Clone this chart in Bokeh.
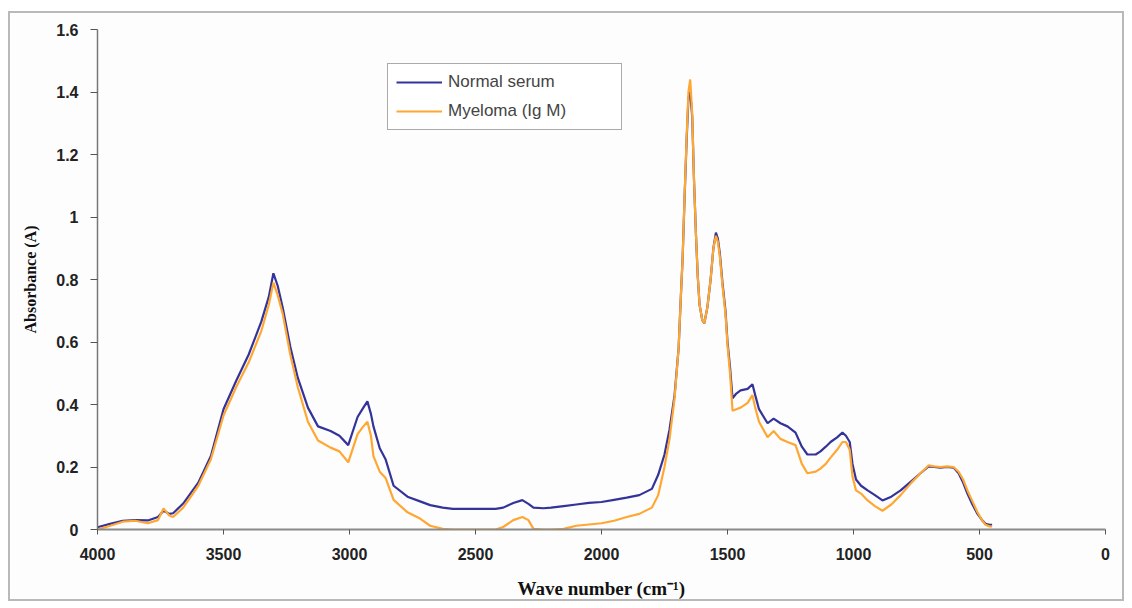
from bokeh.plotting import figure
from bokeh.models import Range1d, FixedTicker, Legend, LegendItem
from bokeh.embed import file_html
from bokeh.resources import INLINE

# ---- data ----
wavenumber = [4000, 3950, 3900, 3850, 3800, 3760, 3738, 3715, 3700, 3660, 3600, 3550, 3500, 3450,
              3400, 3350, 3320, 3302, 3285, 3265, 3235, 3205, 3165, 3125, 3075, 3040, 3005, 2968,
              2945, 2929, 2915, 2905, 2880, 2857, 2825, 2770, 2720, 2680, 2630, 2590, 2500, 2420,
              2390, 2350, 2314, 2290, 2270, 2230, 2200, 2150, 2100, 2050, 2000, 1950, 1900, 1850,
              1800, 1775, 1750, 1730, 1710, 1694, 1686, 1678, 1670, 1662, 1655, 1648, 1640, 1633,
              1625, 1618, 1611, 1600, 1592, 1580, 1567, 1556, 1546, 1538, 1530, 1520, 1508, 1500,
              1490, 1480, 1465, 1448, 1420, 1401, 1390, 1375, 1341, 1317, 1290, 1262, 1230, 1205,
              1183, 1150, 1131, 1110, 1091, 1065, 1044, 1030, 1015, 1004, 990, 970, 944, 915, 885,
              850, 813, 770, 734, 702, 680, 655, 630, 603, 583, 565, 548, 528, 508, 490, 476, 460, 450]

normal_serum = [0.007, 0.018, 0.028, 0.030, 0.029, 0.040, 0.060, 0.050, 0.052, 0.083, 0.150, 0.235,
                0.385, 0.475, 0.560, 0.665, 0.745, 0.820, 0.780, 0.710, 0.585, 0.485, 0.390, 0.330,
                0.315, 0.300, 0.270, 0.360, 0.390, 0.410, 0.370, 0.330, 0.260, 0.225, 0.140, 0.105,
                0.090, 0.078, 0.070, 0.066, 0.066, 0.066, 0.070, 0.085, 0.094, 0.082, 0.070, 0.068,
                0.070, 0.075, 0.080, 0.085, 0.088, 0.095, 0.102, 0.110, 0.130, 0.175, 0.240, 0.320,
                0.430, 0.580, 0.730, 0.870, 1.070, 1.250, 1.380, 1.400, 1.320, 1.120, 0.940, 0.810,
                0.720, 0.670, 0.660, 0.710, 0.800, 0.900, 0.950, 0.930, 0.880, 0.790, 0.700, 0.600,
                0.520, 0.420, 0.435, 0.445, 0.450, 0.465, 0.430, 0.385, 0.340, 0.355, 0.340, 0.330,
                0.310, 0.265, 0.240, 0.240, 0.250, 0.265, 0.280, 0.295, 0.310, 0.300, 0.280, 0.210,
                0.160, 0.140, 0.125, 0.110, 0.093, 0.105, 0.125, 0.155, 0.180, 0.202, 0.200, 0.198,
                0.200, 0.198, 0.180, 0.150, 0.115, 0.080, 0.050, 0.030, 0.018, 0.015, 0.015]

myeloma_igm = [0.000, 0.012, 0.025, 0.028, 0.020, 0.030, 0.067, 0.045, 0.040, 0.070, 0.140, 0.225,
               0.365, 0.455, 0.535, 0.635, 0.720, 0.790, 0.750, 0.690, 0.560, 0.455, 0.345, 0.285,
               0.262, 0.250, 0.215, 0.305, 0.330, 0.345, 0.300, 0.235, 0.185, 0.165, 0.095, 0.055,
               0.035, 0.012, 0.002, 0.000, 0.000, 0.000, 0.008, 0.030, 0.040, 0.030, 0.002, 0.000,
               0.000, 0.002, 0.012, 0.016, 0.020, 0.028, 0.040, 0.050, 0.070, 0.110, 0.200, 0.290,
               0.420, 0.580, 0.730, 0.870, 1.075, 1.260, 1.400, 1.440, 1.330, 1.120, 0.940, 0.810,
               0.720, 0.670, 0.660, 0.710, 0.800, 0.900, 0.940, 0.920, 0.870, 0.780, 0.690, 0.590,
               0.500, 0.380, 0.385, 0.390, 0.405, 0.430, 0.390, 0.345, 0.295, 0.315, 0.290, 0.280,
               0.270, 0.210, 0.180, 0.185, 0.195, 0.210, 0.230, 0.255, 0.280, 0.280, 0.255, 0.170,
               0.125, 0.115, 0.093, 0.075, 0.060, 0.080, 0.110, 0.150, 0.180, 0.205, 0.202, 0.200,
               0.202, 0.200, 0.185, 0.160, 0.125, 0.090, 0.055, 0.030, 0.015, 0.010, 0.010]

series_names = ["Normal serum", "Myeloma (Ig M)"]
x_ticks = [4000, 3500, 3000, 2500, 2000, 1500, 1000, 500, 0]
x_tick_labels = ["4000", "3500", "3000", "2500", "2000", "1500", "1000", "500", "0"]
y_ticks = [0, 0.2, 0.4, 0.6, 0.8, 1.0, 1.2, 1.4, 1.6]
y_tick_labels = ["0", "0.2", "0.4", "0.6", "0.8", "1", "1.2", "1.4", "1.6"]
y_title = "Absorbance (A)"
x_title = "Wave number (cm\u207b\u00b9)"

# ---- figure ----
p = figure(width=1116, height=590, output_backend="svg", toolbar_location=None,
           x_range=Range1d(4000, 0), y_range=Range1d(0, 1.6),
           min_border_left=87, min_border_right=21, min_border_top=16, min_border_bottom=74)
p.styles = {"border": "2px solid #b9b9b9", "margin-left": "8px", "margin-top": "11px"}
p.background_fill_color = "#fdfdfd"
p.border_fill_color = "#fdfdfd"
p.outline_line_color = None
p.xgrid.visible = False
p.ygrid.visible = False

r_normal = p.line(wavenumber, normal_serum, line_color="#33339a", line_width=2.2)
r_myeloma = p.line(wavenumber, myeloma_igm, line_color="#ffa733", line_width=2.2)

# axes
xa = p.xaxis[0]
xa.ticker = FixedTicker(ticks=x_ticks)
xa.major_label_overrides = {t: l for t, l in zip(x_ticks, x_tick_labels)}
xa.axis_line_color = "#8a8a8a"
xa.axis_line_width = 2
xa.major_tick_in = 0
xa.major_tick_out = 5
xa.major_tick_line_color = "#555555"
xa.minor_tick_line_color = None
xa.major_label_text_font = "Liberation Sans"
xa.major_label_text_font_style = "bold"
xa.major_label_text_font_size = "16px"
xa.major_label_text_color = "#222222"
xa.major_label_standoff = 13
xa.axis_label = x_title
xa.axis_label_text_font = "Liberation Serif"
xa.axis_label_text_font_style = "bold"
xa.axis_label_text_font_size = "19px"
xa.axis_label_text_color = "#111111"
xa.axis_label_standoff = 15

ya = p.yaxis[0]
ya.ticker = FixedTicker(ticks=y_ticks)
ya.major_label_overrides = {t: l for t, l in zip(y_ticks, y_tick_labels)}
ya.axis_line_color = "#777777"
ya.axis_line_width = 1.5
ya.major_tick_in = 0
ya.major_tick_out = 7
ya.major_tick_line_color = "#555555"
ya.minor_tick_line_color = None
ya.major_label_text_font = "Liberation Sans"
ya.major_label_text_font_style = "bold"
ya.major_label_text_font_size = "16px"
ya.major_label_text_color = "#222222"
ya.major_label_standoff = 12
ya.axis_label = y_title
ya.axis_label_text_font = "Liberation Serif"
ya.axis_label_text_font_style = "bold"
ya.axis_label_text_font_size = "16px"
ya.axis_label_text_color = "#111111"
ya.axis_label_standoff = 14

legend = Legend(items=[LegendItem(label=series_names[0], renderers=[r_normal]),
                       LegendItem(label=series_names[1], renderers=[r_myeloma])],
                location=(290, 399), orientation="vertical")
legend.border_line_color = "#555555"
legend.border_line_width = 1.5
legend.background_fill_color = "white"
legend.background_fill_alpha = 1
legend.label_text_font = "Liberation Sans"
legend.label_text_font_size = "17px"
legend.label_text_color = "#444444"
legend.glyph_width = 46
legend.glyph_height = 20
legend.label_height = 20
legend.label_width = 165
legend.label_standoff = 6
legend.padding = 8
legend.spacing = 9
legend.margin = 0
p.add_layout(legend, "center")

open("out.html", "w").write(file_html(p, INLINE))
